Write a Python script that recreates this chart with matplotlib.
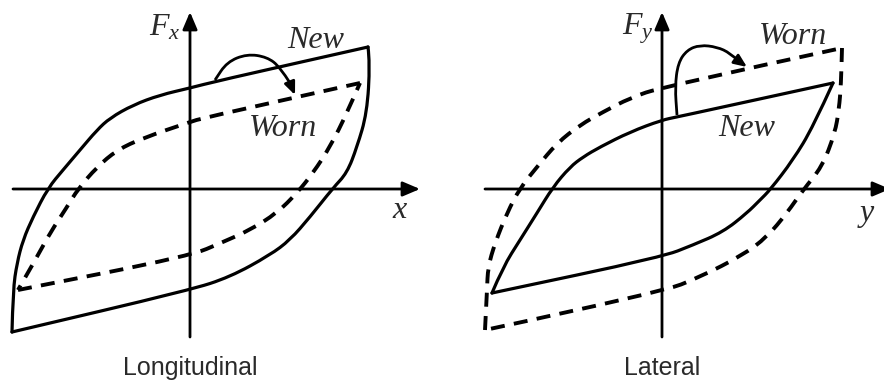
import matplotlib
matplotlib.use("Agg")
import matplotlib.pyplot as plt
from matplotlib.path import Path
from matplotlib.patches import PathPatch

plt.rcParams['mathtext.fontset'] = 'custom'
plt.rcParams['mathtext.it'] = 'Liberation Serif:italic'
plt.rcParams['mathtext.rm'] = 'Liberation Serif'

# loop shapes, origin at the axis crossing (pixel units)
# each loop = two branches meeting at the corners
lon_new_top_x = [178, 27, 0, -30, -57, -80, -93, -110, -127, -142, -157, -167, -173, -177, -178]
lon_new_top_y = [142, 108, 101, 94, 84, 71, 59, 39, 19, 1, -28, -51, -74, -101, -143]
lon_new_bot_x = [-178, 0, 40, 80, 100, 120, 143, 157, 167, 177, 180, 178]
lon_new_bot_y = [-143, -101, -88, -66, -51, -28, 1, 16, 42, 76, 126, 142]
lon_worn_top_x = [170, 13, 0, -47, -73, -93, -112, -123, -140, -153, -172]
lon_worn_top_y = [106, 71, 67, 51, 39, 22, 0, -18, -44, -68, -101]
lon_worn_bot_x = [-172, 0, 33, 60, 87, 107, 123, 140, 157, 170]
lon_worn_bot_y = [-101, -67, -53, -41, -24, -4, 16, 42, 76, 106]
lon_arc_x = [25, 37, 57, 77, 90, 100, 105]
lon_arc_y = [109, 127, 135, 132, 122, 106, 94]

lat_new_top_x = [171, 15, 0, -32, -62, -79, -92, -109, -125, -142, -159, -170]
lat_new_top_y = [106, 72, 69, 57, 42, 32, 22, 2, -24, -51, -78, -104]
lat_new_bot_x = [-170, 0, 31, 61, 85, 98, 108, 131, 151, 171]
lat_new_bot_y = [-104, -68, -56, -43, -24, -11, -1, 29, 62, 106]
lat_worn_bot_x = [180, 179, 177, 173, 160, 141, 125, 105, 81, 38, 0, -177]
lat_worn_bot_y = [141, 105, 80, 56, 22, -1, -24, -48, -66, -88, -103, -141]
lat_worn_top_x = [-177, -175, -174, -167, -155, -142, -125, -105, -82, -59, -32, 0, 180]
lat_worn_top_y = [-141, -101, -78, -54, -24, 1, 22, 46, 64, 77, 91, 102, 141]
lat_arc_x = [15, 13, 16, 25, 38, 55, 68, 78, 85]
lat_arc_y = [74, 102, 126, 139, 144, 142, 136, 127, 122]

panels = [
    dict(new=[(lon_new_top_x, lon_new_top_y), (lon_new_bot_x, lon_new_bot_y)],
         worn=[(lon_worn_top_x, lon_worn_top_y), (lon_worn_bot_x, lon_worn_bot_y)],
         arc=(lon_arc_x, lon_arc_y),
         xlim=(-190, 252), xaxis=(-177, 230), force=r'$F_x$', fpos=(-25, 162),
         new_pos=(126, 148), worn_pos=(93, 60), var='x', var_pos=(210, -22),
         title='Longitudinal'),
    dict(new=[(lat_new_top_x, lat_new_top_y), (lat_new_bot_x, lat_new_bot_y)],
         worn=[(lat_worn_top_x, lat_worn_top_y), (lat_worn_bot_x, lat_worn_bot_y)],
         arc=(lat_arc_x, lat_arc_y),
         xlim=(-220, 222), xaxis=(-177, 228), force=r'$F_y$', fpos=(-24, 160),
         new_pos=(85, 60), worn_pos=(131, 152), var='y', var_pos=(205, -24),
         title='Lateral'),
]


def smooth(xs, ys):
    # quadratic bezier through midpoints, the read points act as control points
    pts = list(zip(xs, ys))
    verts = [pts[0]]
    codes = [Path.MOVETO]
    if len(pts) > 2:
        verts.append(((pts[0][0] + pts[1][0]) / 2, (pts[0][1] + pts[1][1]) / 2))
        codes.append(Path.LINETO)
    for k in range(1, len(pts) - 1):
        if k == len(pts) - 2:
            end = pts[k + 1]
        else:
            end = ((pts[k][0] + pts[k + 1][0]) / 2, (pts[k][1] + pts[k + 1][1]) / 2)
        verts += [pts[k], end]
        codes += [Path.CURVE3, Path.CURVE3]
    if len(pts) == 2:
        verts.append(pts[1])
        codes.append(Path.LINETO)
    return Path(verts, codes)


fig = plt.figure(figsize=(8.84, 3.80), dpi=100)
txt = '#2a2a2a'
serif = dict(family='Liberation Serif', style='italic', color=txt)
head = '-|>,head_length=0.4,head_width=0.17'

for i, p in enumerate(panels):
    ax = fig.add_axes([i * 0.5, 0, 0.5, 1])
    ax.set_xlim(*p['xlim'])
    ax.set_ylim(-191, 189)
    ax.axis('off')

    # axes with arrow heads
    ax.annotate('', xy=(p['xaxis'][1], 0), xytext=(p['xaxis'][0], 0),
                arrowprops=dict(arrowstyle=head, lw=2.0, color='k', mutation_scale=26,
                                shrinkA=0, shrinkB=0), annotation_clip=False)
    ax.annotate('', xy=(0, 177), xytext=(0, -148),
                arrowprops=dict(arrowstyle=head, lw=2.0, color='k', mutation_scale=26,
                                shrinkA=0, shrinkB=0))

    for bx, by in p['new']:
        ax.add_patch(PathPatch(smooth(bx, by), fill=False, lw=2.3, ec='k',
                               joinstyle='round', capstyle='round'))
    for bx, by in p['worn']:
        ax.add_patch(PathPatch(smooth(bx, by), fill=False, lw=2.8, ec='k',
                               ls=(0, (3.6, 2.4))))

    arc_x, arc_y = p['arc']
    ax.add_patch(PathPatch(smooth(arc_x[:-1], arc_y[:-1]), fill=False, lw=2.0, ec='k'))
    ax.annotate('', xy=(arc_x[-1], arc_y[-1]), xytext=(arc_x[-2], arc_y[-2]),
                arrowprops=dict(arrowstyle=head, lw=2.0, color='k', mutation_scale=19,
                                shrinkA=0, shrinkB=0))

    ax.text(*p['fpos'], p['force'], fontsize=23, ha='center', va='center', color=txt)
    ax.text(*p['new_pos'], 'New', fontsize=23, ha='center', va='center', **serif)
    ax.text(*p['worn_pos'], 'Worn', fontsize=23, ha='center', va='center', **serif)
    ax.text(*p['var_pos'], p['var'], fontsize=23, ha='center', va='center', **serif)
    ax.text(0, -186, p['title'], fontsize=18, ha='center', va='baseline',
            family='Liberation Sans', color=txt)

fig.savefig('out.png', dpi=100)
